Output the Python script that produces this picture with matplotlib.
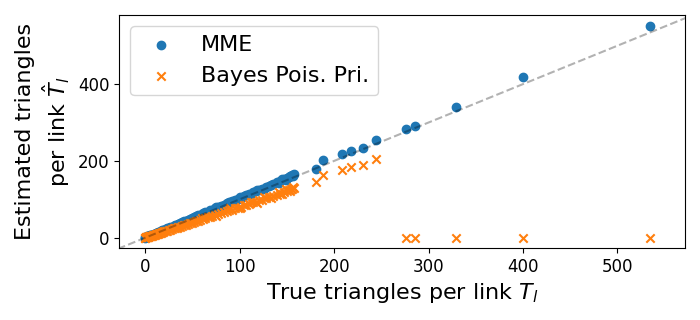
import numpy as np
import matplotlib
matplotlib.use('Agg')
import matplotlib.pyplot as plt

# true triangles per link (small links, dense cluster) and the few big ones
true_small = [0, 0, 1, 1, 2, 2, 3, 3, 4, 5, 5, 6, 7, 8, 9, 10, 11, 12, 13, 14, 15, 16, 18, 19, 20,
              22, 23, 25, 26, 28, 30, 31, 33, 35, 37, 39, 41, 43, 45, 47, 49, 51, 54, 56, 58, 61,
              63, 66, 68, 71, 74, 77, 80, 83, 86, 89, 92, 95, 98, 101, 104, 107, 110, 114, 117,
              120, 124, 128, 131, 135, 139, 143, 147, 150, 152, 154, 155, 157,
              60, 75, 90, 100, 112, 118, 126, 133, 141, 145, 149, 153, 156]
mme_small = [0, 1, 1, 2, 2, 3, 3, 4, 4, 5, 6, 6, 7, 8, 10, 10, 12, 12, 14, 15, 15, 17, 19, 20, 21,
             23, 24, 26, 27, 29, 31, 32, 34, 36, 38, 40, 43, 44, 47, 49, 51, 53, 56, 58, 60, 63,
             66, 68, 71, 73, 77, 80, 83, 86, 89, 92, 95, 98, 101, 104, 108, 110, 114, 118, 121,
             124, 128, 133, 135, 140, 144, 148, 152, 155, 158, 160, 163, 166,
             60, 79, 91, 106, 113, 124, 127, 138, 143, 152, 151, 161, 160]
bayes_small = [0, 0, 1, 1, 2, 1, 2, 2, 3, 4, 4, 5, 5, 6, 7, 8, 9, 9, 10, 11, 12, 13, 14, 15, 16,
               17, 18, 20, 21, 22, 24, 24, 26, 28, 29, 31, 33, 34, 36, 37, 39, 41, 43, 44, 46, 49,
               50, 53, 54, 57, 59, 61, 64, 66, 69, 71, 73, 76, 78, 81, 84, 85, 88, 92, 94,
               97, 99, 103, 105, 108, 112, 115, 118, 121, 123, 126, 127, 129,
               52, 57, 76, 77, 93, 91, 106, 104, 120, 113, 128, 122, 133]

true_big = [181, 188, 208, 218, 231, 244, 276, 286, 329, 400, 535]
mme_big = [178, 202, 218, 226, 234, 254, 282, 291, 340, 418, 551]
bayes_big = [146, 163, 176, 184, 190, 204, 0, 0, 0, 0, 0]

true_T = true_small + true_big
mme = mme_small + mme_big
bayes = bayes_small + bayes_big

fig = plt.figure(figsize=(7, 3.2), dpi=100)
ax = fig.add_axes([0.17, 0.225, 0.809, 0.728])

ax.scatter(true_T, mme, label='MME')
ax.scatter(true_T, bayes, marker='x', label='Bayes Pois. Pri.')
ax.plot([-40, 620], [-40, 620], 'k--', alpha=0.3, zorder=3)

ax.set_xlim(-28, 572)
ax.set_ylim(-27, 580)
ax.set_xticks([0, 100, 200, 300, 400, 500])
ax.set_yticks([0, 200, 400])
ax.tick_params(labelsize=12)

ax.set_xlabel('True triangles per link $T_l$', fontsize=16)
ax.set_ylabel('Estimated triangles\nper link $\\hat{T}_l$', fontsize=16)
ax.legend(loc='upper left', fontsize=16)

fig.savefig('out.png', dpi=100)
